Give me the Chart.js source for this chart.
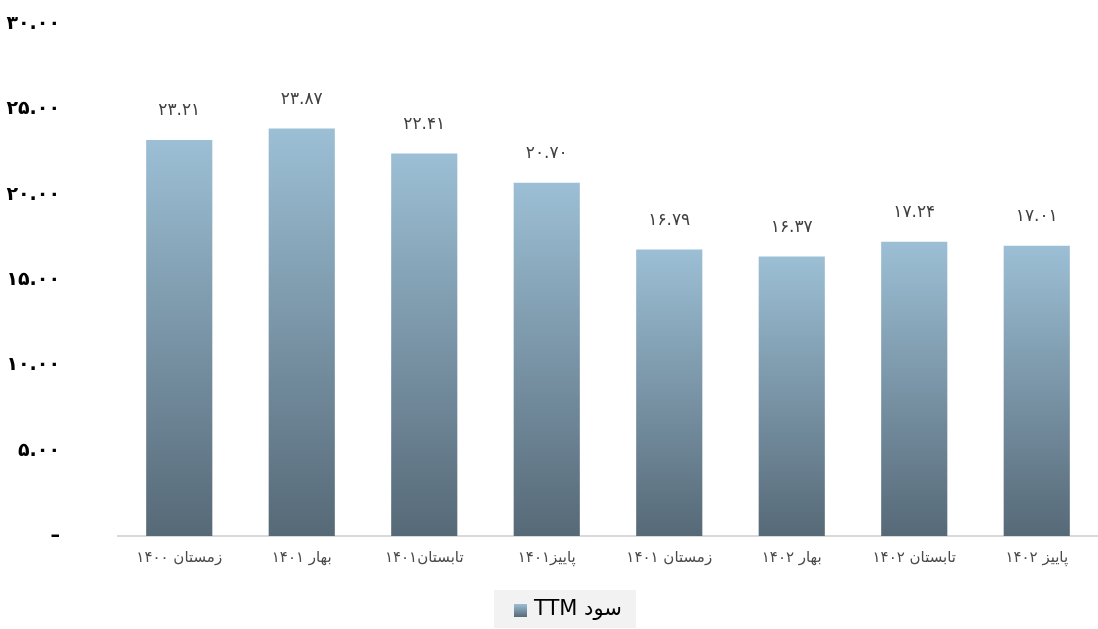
<!DOCTYPE html>
<html><head><meta charset="utf-8">
<script src="https://cdn.jsdelivr.net/npm/chart.js@4/dist/chart.umd.min.js"></script>
<style>html,body{margin:0;padding:0;background:#fff;}#wrap{width:1098px;height:629px;}</style>
</head><body><div id="wrap"><canvas id="c" width="1098" height="629"></canvas></div>
<script>
const categories = ["زمستان ۱۴۰۰","بهار ۱۴۰۱","تابستان۱۴۰۱","پاییز۱۴۰۱","زمستان ۱۴۰۱","بهار ۱۴۰۲","تابستان ۱۴۰۲","پاییز ۱۴۰۲"];
const ttmValues = [23.21, 23.87, 22.41, 20.70, 16.79, 16.37, 17.24, 17.01];
const valueLabels = ["23.21", "23.87", "22.41", "20.70", "16.79", "16.37", "17.24", "17.01"];
const seriesName = "TTM سود";
const yTicks = [0, 5, 10, 15, 20, 25, 30];

const FA = "DejaVu Sans, Noto Sans, sans-serif";
function toFa(s){ return String(s).replace(/[0-9]/g, d => "۰۱۲۳۴۵۶۷۸۹"[+d]); }

const labelPlugin = {
  id: 'valLabels',
  afterDatasetsDraw(chart){
    const ctx = chart.ctx;
    const meta = chart.getDatasetMeta(0);
    ctx.save();
    ctx.font = "17px " + FA;
    ctx.fillStyle = "#404040";
    ctx.textAlign = "center";
    ctx.textBaseline = "middle";
    meta.data.forEach((bar, i) => {
      ctx.fillText(toFa(valueLabels[i]), bar.x, bar.y - 29);
    });
    ctx.restore();
  }
};
const legendPlugin = {
  id: 'legendBox',
  afterDraw(chart){
    const ctx = chart.ctx;
    ctx.save();
    ctx.fillStyle = "#f2f2f2";
    ctx.fillRect(494, 590, 142, 38);
    const g = ctx.createLinearGradient(0, 604, 0, 617);
    g.addColorStop(0, "#9cbfd5");
    g.addColorStop(1, "#566977");
    ctx.fillStyle = g;
    ctx.fillRect(514, 604, 13, 13);
    ctx.fillStyle = "#000";
    ctx.font = "21px " + FA;
    ctx.textAlign = "left";
    ctx.textBaseline = "middle";
    ctx.fillText(seriesName, 534, 610);
    ctx.restore();
  }
};

function barGrad(context){
  const chart = context.chart;
  const ys = chart.scales.y;
  if(!chart.chartArea || !ys || context.dataIndex === undefined) return "#7f9db1";
  const v = ttmValues[context.dataIndex];
  const top = ys.getPixelForValue(v);
  const bottom = ys.getPixelForValue(0);
  const g = chart.ctx.createLinearGradient(0, top, 0, bottom);
  g.addColorStop(0, "#9cbfd5");
  g.addColorStop(1, "#566977");
  return g;
}

new Chart(document.getElementById('c'), {
  type: 'bar',
  data: {
    labels: categories,
    datasets: [{
      label: seriesName,
      data: ttmValues,
      backgroundColor: barGrad,
      borderWidth: 0,
      categoryPercentage: 1,
      barPercentage: 0.54
    }]
  },
  options: {
    responsive: false,
    animation: false,
    devicePixelRatio: 1,
    layout: { padding: { top: 24, right: 0, left: 0, bottom: 45 } },
    scales: {
      x: {
        grid: { display: false, drawTicks: false },
        border: { display: true, color: "#d9d9d9", width: 2 },
        ticks: { color: "#4a4a4a", font: { family: FA, size: 15 }, padding: 13, maxRotation: 0 },
        afterFit(s){ s.height = 48; s.paddingLeft = 0; s.paddingRight = 0; }
      },
      y: {
        min: 0, max: 30,
        afterBuildTicks(s){ s.ticks = yTicks.map(v => ({value: v})); },
        grid: { display: false, drawTicks: false },
        border: { display: false },
        ticks: {
          color: "#000", font: { family: FA, size: 19, weight: 'bold' }, padding: 58,
          callback: v => v === 0 ? "–" : toFa(v.toFixed(2))
        },
        afterFit(s){ s.width = 118; s.paddingTop = 0; s.paddingBottom = 0; }
      }
    },
    plugins: {
      legend: { display: false },
      tooltip: { enabled: false }
    }
  },
  plugins: [labelPlugin, legendPlugin]
});
</script></body></html>
